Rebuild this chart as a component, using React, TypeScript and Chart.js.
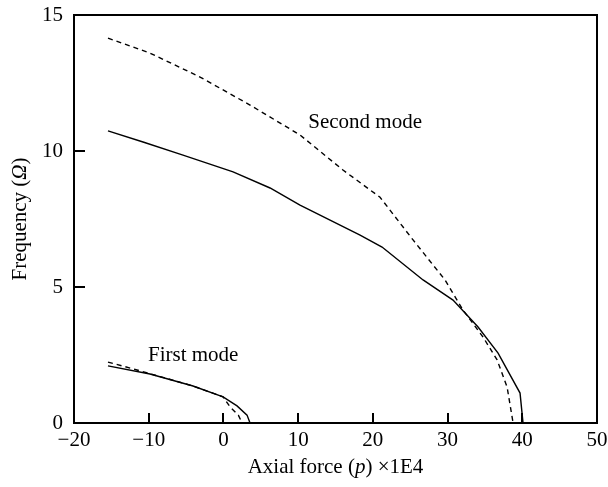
import React, { useEffect, useRef } from "react";
import { Chart, registerables } from "chart.js";
Chart.register(...registerables);

const xMin = -20;
const xMax = 50;
const yMin = 0;
const yMax = 15;
const xStep = 10;
const yStep = 5;

const secondModeSolid: [number, number][] = [
  [-15.45, 10.74], [-10.76, 10.33], [-5.41, 9.85], [1.29, 9.23], [6.24, 8.64],
  [10.25, 8.01], [18.29, 6.91], [21.23, 6.47], [26.72, 5.26], [30.73, 4.52],
  [34.08, 3.53], [36.76, 2.57], [39.7, 1.1], [40.1, 0],
];
const secondModeDashed: [number, number][] = [
  [-15.45, 14.15], [-9.83, 13.6], [-3.13, 12.72], [3.56, 11.69], [10.25, 10.59],
  [16.0, 9.3], [20.96, 8.3], [25.38, 6.73], [29.66, 5.26], [32.07, 4.15],
  [34.75, 3.16], [36.63, 2.32], [37.97, 1.32], [38.77, 0],
];
const firstModeSolid: [number, number][] = [
  [-15.45, 2.1], [-9.83, 1.8], [-4.07, 1.36], [-0.05, 0.96], [1.82, 0.63],
  [3.16, 0.29], [3.56, 0],
];
const firstModeDashed: [number, number][] = [
  [-15.45, 2.24], [-11.57, 1.95], [-4.07, 1.36], [-0.05, 0.96], [0.9, 0.59],
  [2.0, 0.29], [2.5, 0],
];

const annotationTexts = ["Second mode", "First mode"];
const annotationAnchors: [number, number][] = [[11.36, 10.85], [-10.1, 2.28]];

const xTitleParts = [
  { t: "Axial force (", i: false },
  { t: "p", i: true },
  { t: ") \u00d71E4", i: false },
];
const yTitleParts = [
  { t: "Frequency (", i: false },
  { t: "\u03a9", i: true },
  { t: ")", i: false },
];

const FONT = "'Liberation Serif', 'Times New Roman', serif";
const FS = 21;

function drawParts(ctx: CanvasRenderingContext2D, parts: { t: string; i: boolean }[], cx: number, cy: number) {
  let w = 0;
  for (const p of parts) {
    ctx.font = `${p.i ? "italic " : ""}${FS}px ${FONT}`;
    w += ctx.measureText(p.t).width;
  }
  let x = cx - w / 2;
  for (const p of parts) {
    ctx.font = `${p.i ? "italic " : ""}${FS}px ${FONT}`;
    ctx.fillText(p.t, x, cy);
    x += ctx.measureText(p.t).width;
  }
}

const framePlugin = {
  id: "frameTicks",
  afterDraw(chart: any) {
    const { ctx, chartArea, scales } = chart;
    const { left, right, top, bottom } = chartArea;
    const xs = scales.x;
    const ys = scales.y;
    ctx.save();
    ctx.strokeStyle = "#000";
    ctx.lineWidth = 2;
    ctx.strokeRect(left, top, right - left, bottom - top);
    ctx.beginPath();
    for (let v = xMin + xStep; v < xMax; v += xStep) {
      const px = Math.round(xs.getPixelForValue(v));
      ctx.moveTo(px, bottom);
      ctx.lineTo(px, bottom - 10);
    }
    for (let v = yMin + yStep; v < yMax; v += yStep) {
      const py = Math.round(ys.getPixelForValue(v));
      ctx.moveTo(left, py);
      ctx.lineTo(left + 11, py);
    }
    ctx.stroke();

    ctx.fillStyle = "#000";
    ctx.textBaseline = "alphabetic";
    ctx.textAlign = "left";
    ctx.font = `${FS}px ${FONT}`;
    annotationTexts.forEach((t, k) => {
      const [ax, ay] = annotationAnchors[k];
      ctx.fillText(t, xs.getPixelForValue(ax), ys.getPixelForValue(ay));
    });

    drawParts(ctx, xTitleParts, (left + right) / 2, 473);
    ctx.save();
    ctx.translate(26, (top + bottom) / 2);
    ctx.rotate(-Math.PI / 2);
    drawParts(ctx, yTitleParts, 0, 0);
    ctx.restore();
    ctx.restore();
  },
};

function toPts(a: [number, number][]) {
  return a.map(([x, y]) => ({ x, y }));
}

export default function App() {
  const ref = useRef<HTMLCanvasElement>(null);
  useEffect(() => {
    if (!ref.current) return;
    const line = (data: [number, number][], dashed: boolean) => ({
      data: toPts(data),
      showLine: true,
      borderColor: "#000",
      borderWidth: 1.4,
      borderDash: dashed ? [5, 4] : [],
      pointRadius: 0,
      tension: 0,
      fill: false,
    });
    const chart = new Chart(ref.current, {
      type: "scatter",
      data: {
        datasets: [
          line(secondModeSolid, false),
          line(secondModeDashed, true),
          line(firstModeSolid, false),
          line(firstModeDashed, true),
        ],
      },
      options: {
        animation: false,
        responsive: false,
        maintainAspectRatio: false,
        layout: { padding: { left: 0, top: 15, right: 11, bottom: 0 } },
        plugins: { legend: { display: false }, tooltip: { enabled: false } },
        scales: {
          x: {
            type: "linear",
            min: xMin,
            max: xMax,
            grid: { display: false, drawTicks: false },
            border: { display: false },
            ticks: {
              stepSize: xStep,
              padding: 5,
              color: "#000",
              font: { family: FONT, size: 21 },
              callback: (v: any) => String(v).replace("-", "\u2212"),
              maxRotation: 0,
            },
            afterFit: (s: any) => { s.height = 64; s.paddingLeft = 0; s.paddingRight = 0; },
          },
          y: {
            type: "linear",
            min: yMin,
            max: yMax,
            grid: { display: false, drawTicks: false },
            border: { display: false },
            ticks: {
              stepSize: yStep,
              padding: 11,
              color: "#000",
              font: { family: FONT, size: 21 },
            },
            afterFit: (s: any) => { s.width = 74; s.paddingTop = 0; s.paddingBottom = 0; },
          },
        },
      },
      plugins: [framePlugin],
    });
    return () => chart.destroy();
  }, []);
  return (
    <div style={{ position: "fixed", left: 0, top: 0, width: 608, height: 487, background: "#fff" }}>
      <canvas ref={ref} width={608} height={487} style={{ display: "block" }} />
    </div>
  );
}
